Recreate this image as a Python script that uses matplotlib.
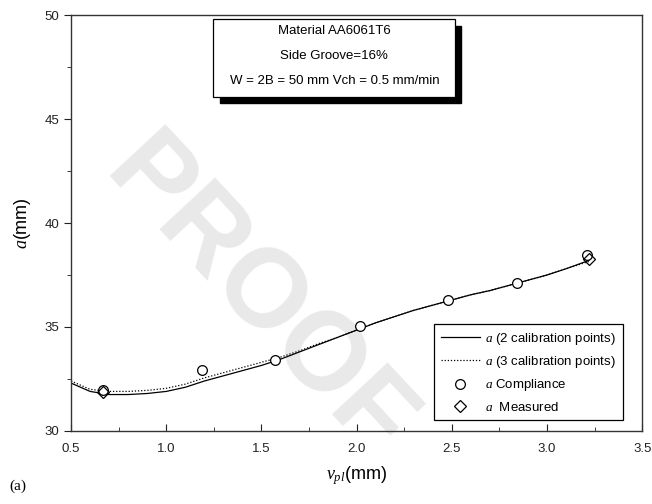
import matplotlib
matplotlib.use("Agg")
import matplotlib.pyplot as plt
from matplotlib.patches import Rectangle
from matplotlib.ticker import MultipleLocator

plt.rcParams['font.family'] = ['Liberation Sans', 'DejaVu Sans']
plt.rcParams['mathtext.fontset'] = 'custom'
plt.rcParams['mathtext.it'] = 'Liberation Serif:italic'
plt.rcParams['mathtext.rm'] = 'Liberation Sans'

# ---- data ----
curve_x = [0.5, 0.6, 0.7, 0.8, 0.9, 1.0, 1.1, 1.2, 1.3, 1.4, 1.5, 1.6, 1.7, 1.8,
           1.9, 2.0, 2.1, 2.2, 2.3, 2.4, 2.5, 2.6, 2.7, 2.8, 2.9, 3.0, 3.1, 3.22]
a_2cal = [32.3, 31.9, 31.75, 31.75, 31.8, 31.9, 32.1, 32.4, 32.65, 32.9, 33.15,
          33.45, 33.8, 34.15, 34.5, 34.85, 35.2, 35.5, 35.8, 36.05, 36.3, 36.55,
          36.75, 37.0, 37.25, 37.5, 37.8, 38.2]
a_3cal = [32.4, 32.0, 31.9, 31.9, 31.95, 32.05, 32.25, 32.55, 32.8, 33.05, 33.3,
          33.55, 33.85, 34.2, 34.5, 34.85, 35.2, 35.5, 35.8, 36.05, 36.3, 36.55,
          36.75, 37.0, 37.25, 37.5, 37.8, 38.15]
comp_x = [0.67, 1.19, 1.57, 2.02, 2.48, 2.84, 3.21]
comp_a = [31.95, 32.93, 33.41, 35.05, 36.28, 37.12, 38.48]
meas_x = [0.67, 3.22]
meas_a = [31.85, 38.25]

info_lines = ["Material AA6061T6", "Side Groove=16%",
              "W = 2B = 50 mm Vch = 0.5 mm/min"]
legend_labels = [r"$a$ (2 calibration points)", r"$a$ (3 calibration points)",
                 r"$a$ Compliance", r"$a$  Measured"]

fig = plt.figure(figsize=(6.52, 5.04), dpi=100)
ax = fig.add_axes([0.109, 0.145, 0.876, 0.825])
ax.set_zorder(1)
ax.patch.set_alpha(0)

# watermark
fig.text(0.395, 0.405, "PROOF", rotation=-47, fontsize=80, fontweight='bold',
         color='#e9e9e9', ha='center', va='center', zorder=0.5)

ax.plot(curve_x, a_2cal, color='black', lw=0.9, label=legend_labels[0])
ax.plot(curve_x, a_3cal, color='black', lw=0.9, ls=(0, (1, 1.5)), label=legend_labels[1])
ax.plot(comp_x, comp_a, ls='none', marker='o', ms=7, mfc='white', mec='black',
        mew=0.9, label=legend_labels[2])
ax.plot(meas_x, meas_a, ls='none', marker='D', ms=6, mfc='none', mec='black',
        mew=0.9, label=legend_labels[3])

ax.set_xlim(0.5, 3.5)
ax.set_ylim(30, 50)
ax.xaxis.set_major_locator(MultipleLocator(0.5))
ax.xaxis.set_minor_locator(MultipleLocator(0.25))
ax.yaxis.set_major_locator(MultipleLocator(5))
ax.yaxis.set_minor_locator(MultipleLocator(2.5))
ax.tick_params(axis='x', which='both', direction='in', labelsize=9.5, pad=9, colors='#222222')
ax.tick_params(axis='x', which='major', length=5)
ax.tick_params(axis='x', which='minor', length=3)
ax.tick_params(axis='y', which='both', direction='out', labelsize=9.5, colors='#222222')
ax.tick_params(axis='y', which='major', length=5)
ax.tick_params(axis='y', which='minor', length=3)
ax.xaxis.set_major_formatter(matplotlib.ticker.FormatStrFormatter('%.1f'))
for s in ax.spines.values():
    s.set_color('#333333')
    s.set_linewidth(1.0)

ax.set_xlabel(r"$\nu_{pl}$(mm)", fontsize=13, labelpad=6)
ax.set_ylabel(r"$a$(mm)", fontsize=13, labelpad=8)

# info box with shadow
bx0, bx1, by0, by1 = 0.249, 0.672, 0.803, 0.990
ax.add_patch(Rectangle((bx0 + 0.011, by0 - 0.015), bx1 - bx0, by1 - by0,
                       transform=ax.transAxes, facecolor='black', edgecolor='black',
                       zorder=4, clip_on=False))
ax.add_patch(Rectangle((bx0, by0), bx1 - bx0, by1 - by0, transform=ax.transAxes,
                       facecolor='white', edgecolor='black', lw=0.9, zorder=5,
                       clip_on=False))
for yy, line in zip([0.962, 0.902, 0.842], info_lines):
    ax.text(0.461, yy, line, transform=ax.transAxes, ha='center', va='center',
            fontsize=9.5, zorder=6)

leg = ax.legend(loc='lower right', bbox_to_anchor=(0.966, 0.026), fontsize=9.5,
                frameon=True, fancybox=False, edgecolor='black', framealpha=1,
                handlelength=3.0, handletextpad=0.4, borderpad=0.5,
                labelspacing=0.55, borderaxespad=0)
leg.get_frame().set_linewidth(0.9)

fig.text(0.015, 0.028, "(a)", fontsize=11, family='Liberation Serif')

fig.savefig("out.png", dpi=100)
